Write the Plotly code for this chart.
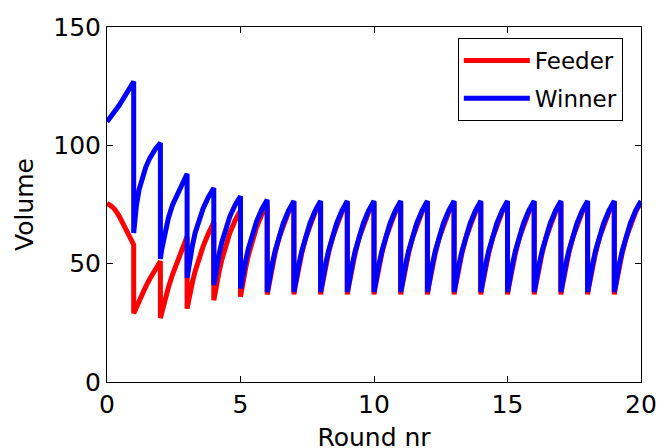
import plotly.graph_objects as go

# position within each round (fraction of a round) at which values were read
round_frac = [0, 0.05, 0.1, 0.2, 0.3, 0.45, 0.6, 0.8, 1.0]

# Feeder volume, one row per round (0..19), values at round_frac
feeder_rounds = [
    [75.5, 75.3, 74.8, 74.0, 72.8, 70.2, 67.0, 62.5, 58.0],
    [29.0, 30.4, 31.8, 34.3, 36.8, 40.3, 43.5, 47.5, 51.0],
    [27.0, 29.5, 31.8, 36.0, 40.0, 45.3, 49.8, 56.0, 61.5],
    [31.0, 34.3, 37.2, 42.3, 46.7, 52.5, 57.3, 62.8, 67.5],
    [34.5, 37.9, 41.0, 46.7, 51.6, 58.1, 63.0, 68.3, 72.5],
    [36.0, 39.5, 42.7, 48.6, 53.7, 60.2, 65.4, 70.9, 75.0],
    [37.0, 40.5, 43.7, 49.6, 54.7, 61.2, 66.4, 71.9, 76.0],
    [37.0, 40.5, 43.7, 49.6, 54.7, 61.2, 66.4, 71.9, 76.0],
    [37.0, 40.5, 43.7, 49.6, 54.7, 61.2, 66.4, 71.9, 76.0],
    [37.0, 40.5, 43.7, 49.6, 54.7, 61.2, 66.4, 71.9, 76.0],
    [37.0, 40.5, 43.7, 49.6, 54.7, 61.2, 66.4, 71.9, 76.0],
    [37.0, 40.5, 43.7, 49.6, 54.7, 61.2, 66.4, 71.9, 76.0],
    [37.0, 40.5, 43.7, 49.6, 54.7, 61.2, 66.4, 71.9, 76.0],
    [37.0, 40.5, 43.7, 49.6, 54.7, 61.2, 66.4, 71.9, 76.0],
    [37.0, 40.5, 43.7, 49.6, 54.7, 61.2, 66.4, 71.9, 76.0],
    [37.0, 40.5, 43.7, 49.6, 54.7, 61.2, 66.4, 71.9, 76.0],
    [37.0, 40.5, 43.7, 49.6, 54.7, 61.2, 66.4, 71.9, 76.0],
    [37.0, 40.5, 43.7, 49.6, 54.7, 61.2, 66.4, 71.9, 76.0],
    [37.0, 40.5, 43.7, 49.6, 54.7, 61.2, 66.4, 71.9, 76.0],
    [37.0, 40.5, 43.7, 49.6, 54.7, 61.2, 66.4, 71.9, 76.0],
]

# Winner volume, one row per round (0..19), values at round_frac
winner_rounds = [
    [110.0, 110.7, 111.4, 112.8, 114.3, 116.8, 119.5, 123.0, 127.0],
    [63.0, 69.1, 74.4, 81.2, 85.8, 90.7, 94.5, 98.3, 101.0],
    [52.0, 56.0, 59.2, 64.6, 69.3, 74.7, 78.6, 83.7, 88.0],
    [44.0, 48.2, 51.6, 57.7, 63.0, 69.1, 73.3, 78.2, 82.0],
    [41.0, 44.8, 48.1, 54.1, 59.0, 65.0, 69.9, 74.8, 78.5],
    [39.5, 42.9, 46.0, 51.6, 56.6, 62.8, 67.8, 73.0, 77.0],
    [38.0, 41.5, 44.7, 50.5, 55.5, 61.9, 67.0, 72.4, 76.5],
    [38.0, 41.5, 44.7, 50.5, 55.5, 61.9, 67.0, 72.4, 76.5],
    [38.0, 41.5, 44.7, 50.5, 55.5, 61.9, 67.0, 72.4, 76.5],
    [38.0, 41.5, 44.7, 50.5, 55.5, 61.9, 67.0, 72.4, 76.5],
    [38.0, 41.5, 44.7, 50.5, 55.5, 61.9, 67.0, 72.4, 76.5],
    [38.0, 41.5, 44.7, 50.5, 55.5, 61.9, 67.0, 72.4, 76.5],
    [38.0, 41.5, 44.7, 50.5, 55.5, 61.9, 67.0, 72.4, 76.5],
    [38.0, 41.5, 44.7, 50.5, 55.5, 61.9, 67.0, 72.4, 76.5],
    [38.0, 41.5, 44.7, 50.5, 55.5, 61.9, 67.0, 72.4, 76.5],
    [38.0, 41.5, 44.7, 50.5, 55.5, 61.9, 67.0, 72.4, 76.5],
    [38.0, 41.5, 44.7, 50.5, 55.5, 61.9, 67.0, 72.4, 76.5],
    [38.0, 41.5, 44.7, 50.5, 55.5, 61.9, 67.0, 72.4, 76.5],
    [38.0, 41.5, 44.7, 50.5, 55.5, 61.9, 67.0, 72.4, 76.5],
    [38.0, 41.5, 44.7, 50.5, 55.5, 61.9, 67.0, 72.4, 76.5],
]

series_names = ["Feeder", "Winner"]
x_ticks = [0, 5, 10, 15, 20]
y_ticks = [0, 50, 100, 150]


def flatten(rounds):
    xs, ys = [], []
    for r, vals in enumerate(rounds):
        for f, v in zip(round_frac, vals):
            xs.append(r + f)
            ys.append(v)
    return xs, ys


FONT = "DejaVu Sans"
fig = go.Figure()
for name, rounds, color in [(series_names[0], feeder_rounds, "#ff0000"),
                            (series_names[1], winner_rounds, "#0000ff")]:
    xs, ys = flatten(rounds)
    fig.add_trace(go.Scatter(x=xs, y=ys, mode="lines", name=name, legendgroup=name,
                             line=dict(color=color, width=5)))

axis_common = dict(showline=True, linecolor="black", linewidth=1, mirror="ticks",
                   ticks="inside", ticklen=6, tickcolor="black", tickwidth=1,
                   showgrid=False, zeroline=False, automargin=False,
                   tickfont=dict(family=FONT, size=25, color="black"))

fig.update_xaxes(range=[0, 20], tickvals=x_ticks,
                 title=dict(text="Round nr", font=dict(family=FONT, size=25, color="black"),
                            standoff=10),
                 **axis_common)
fig.update_yaxes(range=[0, 150], tickvals=y_ticks,
                 title=dict(text="Volume", font=dict(family=FONT, size=25, color="black"),
                            standoff=12),
                 **axis_common)

# the page body has an 8px default margin, so margins are offset by 8px
fig.update_layout(
    width=664, height=448,
    margin=dict(l=99, r=31, t=19, b=74),
    plot_bgcolor="white", paper_bgcolor="white",
    font=dict(family=FONT, size=25, color="black"),
    legend=dict(x=0.657, y=0.969, xanchor="left", yanchor="top",
                bgcolor="white", bordercolor="black", borderwidth=1,
                font=dict(family=FONT, size=23, color="black"),
                itemwidth=66, tracegroupgap=5, traceorder="grouped"),
    showlegend=True,
)

fig.write_html("out.html")
